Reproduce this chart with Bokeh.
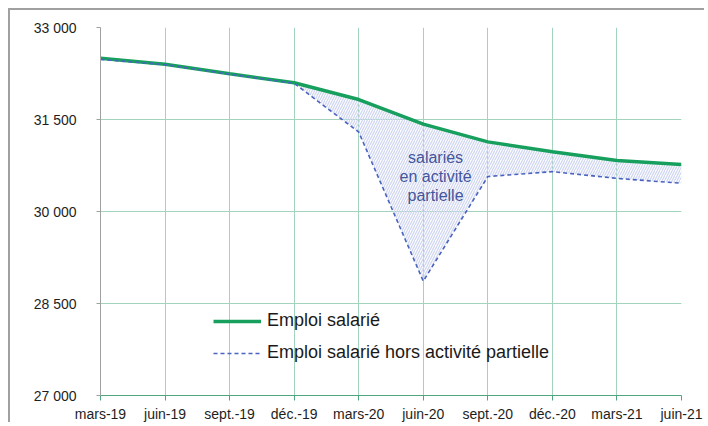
from bokeh.plotting import figure
from bokeh.models import Range1d, FixedTicker, Legend, LegendItem, ColumnDataSource
from bokeh.core.properties import value
from bokeh.embed import file_html
from bokeh.resources import INLINE

# ---- data ----
periods = ["mars-19", "juin-19", "sept.-19", "déc.-19", "mars-20",
           "juin-20", "sept.-20", "déc.-20", "mars-21", "juin-21"]
emploi = [32500, 32400, 32245, 32100, 31825, 31425, 31135, 30975, 30830, 30765]
hors_ap = [32480, 32395, 32240, 32090, 31295, 28865, 30570, 30650, 30540, 30460]
y_ticks = [27000, 28500, 30000, 31500, 33000]
y_labels = ["27 000", "28 500", "30 000", "31 500", "33 000"]
annot_text = "salariés\nen activité\npartielle"

xs = list(range(len(periods)))
src = ColumnDataSource(dict(x=xs, emploi=emploi, hors=hors_ap))

FONT = "Liberation Sans"
GRID = "#a3d2bd"

p = figure(width=696, height=414, output_backend="svg", toolbar_location=None,
           x_range=Range1d(0, len(periods) - 1), y_range=Range1d(27000, 33000),
           min_border_left=90, min_border_right=25, min_border_top=17, min_border_bottom=24)
p.styles = {"margin-left": "8px", "margin-top": "8px",
            "border-top": "2px solid #a0a0a0", "border-left": "2px solid #a0a0a0"}
p.outline_line_color = None
p.background_fill_color = "white"
p.border_fill_color = "white"

# grids
p.xgrid.ticker = FixedTicker(ticks=xs)
p.ygrid.ticker = FixedTicker(ticks=y_ticks)
p.xgrid.grid_line_color = GRID
p.ygrid.grid_line_color = GRID
p.xgrid.grid_line_width = 1
p.ygrid.grid_line_width = 1

# x axis
p.xaxis.ticker = FixedTicker(ticks=xs)
p.xaxis.major_label_overrides = {i: lab for i, lab in zip(xs, periods)}
p.xaxis.axis_line_color = "#4fa67c"
p.xaxis.major_tick_line_color = "#4fa67c"
p.xaxis.major_tick_out = 5
p.xaxis.major_tick_in = 0
p.xaxis.minor_tick_line_color = None
p.xaxis.major_label_standoff = 5
p.xaxis.major_label_text_font = FONT
p.xaxis.major_label_text_font_size = "14px"
p.xaxis.major_label_text_color = "#1e1e1e"

# y axis
p.yaxis.ticker = FixedTicker(ticks=y_ticks)
p.yaxis.major_label_overrides = {t: lab for t, lab in zip(y_ticks, y_labels)}
p.yaxis.axis_line_color = "#a0a0a0"
p.yaxis.major_tick_line_color = "#a0a0a0"
p.yaxis.major_tick_out = 4
p.yaxis.major_tick_in = 0
p.yaxis.minor_tick_line_color = None
p.yaxis.major_label_standoff = 20
p.yaxis.major_label_text_font = FONT
p.yaxis.major_label_text_font_size = "14px"
p.yaxis.major_label_text_color = "#1e1e1e"

# hatched area
p.varea(x="x", y1="hors", y2="emploi", source=src, fill_alpha=0,
        hatch_pattern="/", hatch_color="#d0d7f1", hatch_scale=5, hatch_weight=1.3)

r_emp = p.line("x", "emploi", source=src, line_color="#17a05d", line_width=3.5)
r_hors = p.line("x", "hors", source=src, line_color="#4a63c0", line_width=1.6,
                line_dash="4 3")

# annotation
p.text(x=[5.19], y=[30570], text=[annot_text], text_font=value(FONT),
       text_font_size="16px", text_color="#44559c", text_align="center",
       text_baseline="middle", text_line_height=1.12)

legend = Legend(items=[LegendItem(label="Emploi salarié", renderers=[r_emp]),
                       LegendItem(label="Emploi salarié hors activité partielle", renderers=[r_hors])],
                location=(113, 32), background_fill_alpha=0, border_line_alpha=0,
                label_text_font=FONT, label_text_font_size="18px", label_text_color="#1a1a1a",
                glyph_width=48, glyph_height=20, label_standoff=6, spacing=11,
                padding=0, margin=0)
p.add_layout(legend)

open("out.html", "w").write(file_html(p, INLINE))
